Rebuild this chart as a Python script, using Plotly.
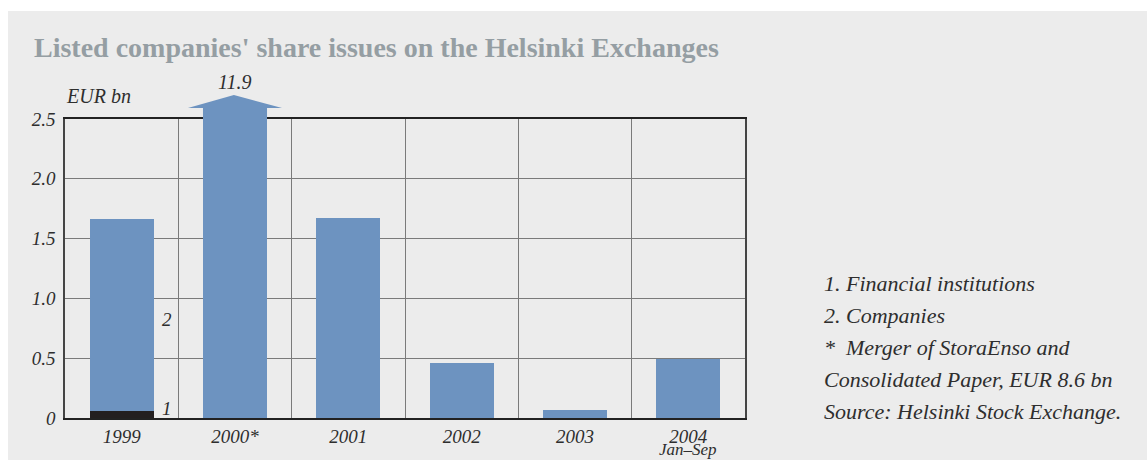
import plotly.graph_objects as go

# Share issues by listed companies, EUR bn
years = ["1999", "2000*", "2001", "2002", "2003", "2004"]
year_sublabels = ["", "", "", "", "", "Jan–Sep"]
financial_institutions = [0.06, 0.0, 0.0, 0.0, 0.0, 0.0]
companies = [1.60, 11.9, 1.67, 0.46, 0.07, 0.49]
y_ticks = [0, 0.5, 1.0, 1.5, 2.0, 2.5]
y_tick_labels = ["0", "0.5", "1.0", "1.5", "2.0", "2.5"]
notes = [
    "1. Financial institutions",
    "2. Companies",
    "*  Merger of StoraEnso and",
    "Consolidated Paper, EUR 8.6 bn",
    "Source: Helsinki Stock Exchange.",
]

W, H = 1147, 460
ML, MR, MT, MB = 65, 402, 119, 42
PW, PH = W - ML - MR, H - MT - MB

BLUE = "#6d93c0"
DARK = "#231f20"
TXT = "#2e2e2e"
SERIF = "Liberation Serif, Times New Roman, serif"


def py(px):
    """Pixel row -> paper y."""
    return 1 - (px - MT) / PH


def pxx(px):
    """Pixel column -> paper x."""
    return (px - ML) / PW


BAR_W = 0.565

fig = go.Figure()
fig.add_bar(x=years, y=financial_institutions, marker_color=DARK,
            marker_line_width=0, width=BAR_W, name="1")
fig.add_bar(x=years, y=companies, marker_color=BLUE,
            marker_line_width=0, width=BAR_W, name="2")

# 2000 bar runs off the scale: continue it above the frame with an arrow head
i2000 = 1
shaft_top = py(108)
head_tip = py(95)
fig.add_shape(type="rect", xref="x", yref="paper",
              x0=i2000 - BAR_W / 2, x1=i2000 + BAR_W / 2, y0=1.0, y1=shaft_top,
              fillcolor=BLUE, line_width=0, layer="above")
fig.add_shape(type="path", xref="x", yref="paper",
              path=f"M {i2000 - 0.415} {shaft_top} L {i2000 + 0.415} {shaft_top} "
                   f"L {i2000 - 0.01} {head_tip} Z",
              fillcolor=BLUE, line_width=0, layer="above")

# White strips around the grey panel
fig.add_shape(type="rect", xref="paper", yref="paper",
              x0=pxx(0), x1=pxx(W), y0=py(11), y1=py(0),
              fillcolor="white", line_width=0, layer="below")
fig.add_shape(type="rect", xref="paper", yref="paper",
              x0=pxx(0), x1=pxx(8), y0=py(H), y1=py(0),
              fillcolor="white", line_width=0, layer="below")

ann = []
ann.append(dict(text="<b>Listed companies' share issues on the Helsinki Exchanges</b>",
                xref="paper", yref="paper", x=pxx(32), y=py(48),
                xanchor="left", yanchor="middle", showarrow=False,
                font=dict(family=SERIF, size=28, color="#959ea3")))
ann.append(dict(text="<i>EUR bn</i>", xref="paper", yref="paper",
                x=pxx(64), y=py(96), xanchor="left", yanchor="middle",
                showarrow=False, font=dict(family=SERIF, size=20, color=TXT)))
ann.append(dict(text=f"<i>{companies[i2000]}</i>", xref="x", yref="paper",
                x=i2000, y=py(82), xanchor="center", yanchor="middle",
                showarrow=False, font=dict(family=SERIF, size=20, color=TXT)))
# Series keys beside the 1999 bar
ann.append(dict(text="<i>2</i>", xref="x", yref="y", x=0.40, y=0.82,
                xanchor="center", yanchor="middle", showarrow=False,
                font=dict(family=SERIF, size=19, color=TXT)))
ann.append(dict(text="<i>1</i>", xref="x", yref="y", x=0.40, y=0.08,
                xanchor="center", yanchor="middle", showarrow=False,
                font=dict(family=SERIF, size=19, color=TXT)))
# Second line under a category label
for i, sub in enumerate(year_sublabels):
    if sub:
        ann.append(dict(text=f"<i>{sub}</i>", xref="x", yref="paper",
                        x=i, y=py(449.5), xanchor="center", yanchor="middle",
                        showarrow=False, font=dict(family=SERIF, size=17, color=TXT)))
for k, line in enumerate(notes):
    ann.append(dict(text=f"<i>{line}</i>", xref="paper", yref="paper",
                    x=pxx(822), y=py(283 + 32 * k), xanchor="left", yanchor="middle",
                    showarrow=False, font=dict(family=SERIF, size=22, color=TXT)))

fig.update_layout(
    width=W, height=H,
    margin=dict(l=ML, r=MR, t=MT, b=MB, pad=0),
    paper_bgcolor="#ececec", plot_bgcolor="#ececec",
    barmode="stack", bargap=0.435, showlegend=False,
    annotations=ann,
    xaxis=dict(type="category", tickson="boundaries", showgrid=True,
               gridcolor="#7a7a7a", gridwidth=1, ticks="", showline=True,
               linecolor="#222", linewidth=2, mirror=True, automargin=False,
               range=[-0.5, 5.5], ticklabelstandoff=0,
               tickfont=dict(family=SERIF, size=19, color=TXT)),
    yaxis=dict(range=[0, 2.5], tickvals=y_ticks, ticktext=[f"<i>{t}</i>" for t in y_tick_labels],
               showgrid=True, gridcolor="#7a7a7a", gridwidth=1, zeroline=False,
               showline=True, linecolor="#444", linewidth=1.5, mirror=True,
               ticks="", ticklabelstandoff=4, automargin=False,
               tickfont=dict(family=SERIF, size=19, color=TXT)),
)
fig.update_xaxes(ticktext=[f"<i>{y}</i>" for y in years], tickvals=years)

fig.write_html("out.html")
